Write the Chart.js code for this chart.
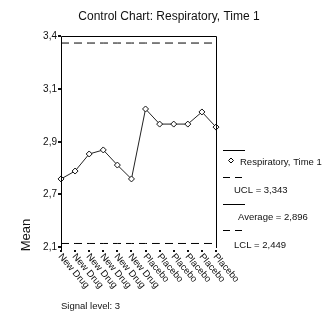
<!DOCTYPE html>
<html>
<head>
<meta charset="utf-8">
<script src="https://cdn.jsdelivr.net/npm/chart.js@4/dist/chart.umd.min.js"></script>
<style>
html,body{margin:0;padding:0;background:#fff;}
canvas{display:block;}
</style>
</head>
<body>
<canvas id="c" width="325" height="324" style="width:325px;height:324px"></canvas>
<script>
const titleText = "Control Chart: Respiratory, Time 1";
const categories = ["New Drug","New Drug","New Drug","New Drug","New Drug","New Drug","Placebo","Placebo","Placebo","Placebo","Placebo","Placebo"];
const meanValues = [2.587, 2.632, 2.729, 2.752, 2.666, 2.587, 2.985, 2.899, 2.899, 2.899, 2.968, 2.882];
const uclLine = [3.36, 3.36, 3.36, 3.36, 3.36, 3.36, 3.36, 3.36, 3.36, 3.36, 3.36, 3.36];
const lclLine = [2.22, 2.22, 2.22, 2.22, 2.22, 2.22, 2.22, 2.22, 2.22, 2.22, 2.22, 2.22];
const yTickValues = [2.2, 2.5, 2.8, 3.1, 3.4];
const yTickLabels = ["2,1", "2,7", "2,9", "3,1", "3,4"];
const legendLabels = ["Respiratory, Time 1", "UCL = 3,343", "Average = 2,896", "LCL = 2,449"];
const yAxisTitle = "Mean";
const footnote = "Signal level: 3";

const FONT = "'Liberation Sans', Arial, sans-serif";
const INK = "#111";

const framePlugin = {
  id: 'frame',
  afterDraw(chart) {
    const ctx = chart.ctx;
    const a = chart.chartArea;
    const xs = chart.scales.x, ys = chart.scales.y;
    ctx.save();
    ctx.strokeStyle = '#000';
    ctx.fillStyle = INK;
    ctx.lineWidth = 1;
    // frame
    ctx.beginPath();
    ctx.moveTo(a.left + 0.5, a.bottom + 4);
    ctx.lineTo(a.left + 0.5, a.top + 0.5);
    ctx.lineTo(a.right + 0.5, a.top + 0.5);
    ctx.lineTo(a.right + 0.5, a.bottom + 1);
    ctx.stroke();
    // title
    ctx.font = "12px " + FONT;
    ctx.textAlign = 'center';
    ctx.textBaseline = 'middle';
    ctx.fillText(titleText, 169, 17);
    // y ticks
    ctx.font = "10px " + FONT;
    ctx.textAlign = 'right';
    yTickValues.forEach((v, i) => {
      const py = Math.round(ys.getPixelForValue(v));
      ctx.fillRect(a.left - 3, py - 1, 3, 2);
      ctx.fillText(yTickLabels[i], a.left - 4, py);
    });
    // x ticks and rotated labels
    ctx.font = "9.5px " + FONT;
    categories.forEach((c, i) => {
      const px = Math.round(xs.getPixelForValue(i));
      ctx.fillRect(px - 1, a.bottom + 3, 2, 2);
      ctx.save();
      ctx.translate(px - 1, a.bottom + 8);
      ctx.rotate(Math.PI / 4 + 0.08);
      ctx.textAlign = 'left';
      ctx.textBaseline = 'middle';
      ctx.fillText(c, 0, 0);
      ctx.restore();
    });
    // y axis title
    ctx.save();
    ctx.font = "13px " + FONT;
    ctx.translate(26, 235);
    ctx.rotate(-Math.PI / 2);
    ctx.textAlign = 'center';
    ctx.textBaseline = 'middle';
    ctx.fillText(yAxisTitle, 0, 0);
    ctx.restore();
    // legend
    const lx0 = 223, lx1 = 245;
    ctx.font = "9.5px " + FONT;
    ctx.textAlign = 'left';
    ctx.textBaseline = 'middle';
    // series
    ctx.beginPath(); ctx.moveTo(lx0, 150.5); ctx.lineTo(lx1, 150.5); ctx.stroke();
    ctx.save();
    ctx.fillStyle = '#fff';
    ctx.beginPath();
    ctx.moveTo(231, 158); ctx.lineTo(233.5, 160.5); ctx.lineTo(231, 163); ctx.lineTo(228.5, 160.5); ctx.closePath();
    ctx.fill(); ctx.stroke();
    ctx.restore();
    ctx.fillText(legendLabels[0], 240, 162);
    // UCL
    ctx.setLineDash([7, 5]);
    ctx.beginPath(); ctx.moveTo(lx0, 177.5); ctx.lineTo(lx1, 177.5); ctx.stroke();
    ctx.setLineDash([]);
    ctx.fillText(legendLabels[1], 234, 190);
    // Average
    ctx.beginPath(); ctx.moveTo(lx0, 204.5); ctx.lineTo(lx1, 204.5); ctx.stroke();
    ctx.fillText(legendLabels[2], 238, 217);
    // LCL
    ctx.setLineDash([7, 5]);
    ctx.beginPath(); ctx.moveTo(lx0, 230.5); ctx.lineTo(lx1, 230.5); ctx.stroke();
    ctx.setLineDash([]);
    ctx.fillText(legendLabels[3], 234, 245);
    // footnote
    ctx.font = "9.5px " + FONT;
    ctx.fillText(footnote, 61, 306);
    ctx.restore();
  }
};

new Chart(document.getElementById('c'), {
  type: 'line',
  data: {
    labels: categories,
    datasets: [
      {
        label: legendLabels[0],
        data: meanValues,
        borderColor: '#222',
        borderWidth: 1,
        pointStyle: 'rectRot',
        pointRadius: 3,
        pointBackgroundColor: '#fff',
        pointBorderColor: '#111',
        pointBorderWidth: 1,
        tension: 0,
        clip: false
      },
      {
        label: 'UCL',
        data: uclLine,
        borderColor: '#000',
        borderWidth: 1,
        borderDash: [8, 5],
        pointRadius: 0,
        clip: false
      },
      {
        label: 'LCL',
        data: lclLine,
        borderColor: '#000',
        borderWidth: 1,
        borderDash: [8, 5],
        pointRadius: 0,
        clip: false
      }
    ]
  },
  options: {
    responsive: false,
    devicePixelRatio: 1,
    animation: false,
    layout: { padding: { left: 61, top: 36, right: 109, bottom: 77 } },
    plugins: { legend: { display: false }, tooltip: { enabled: false }, title: { display: false } },
    scales: {
      x: { type: 'category', display: false, offset: false },
      y: { type: 'linear', display: false, min: 2.2, max: 3.4 }
    }
  },
  plugins: [framePlugin]
});
</script>
</body>
</html>
